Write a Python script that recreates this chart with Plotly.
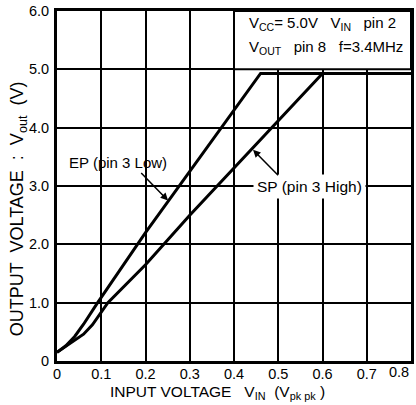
import plotly.graph_objects as go

# Data
ep_x = [0, 0.02, 0.04, 0.06, 0.09, 0.2, 0.46, 0.8]
ep_y = [0.15, 0.26, 0.42, 0.63, 0.98, 2.2, 4.93, 4.93]
sp_x = [0, 0.03, 0.06, 0.08, 0.1, 0.115, 0.2, 0.3, 0.6, 0.8]
sp_y = [0.15, 0.3, 0.46, 0.62, 0.84, 1.0, 1.65, 2.5, 4.93, 4.93]

x_tickvals = [0, 0.1, 0.2, 0.3, 0.4, 0.5, 0.6, 0.7]
x_ticktext = ["0", "0.1", "0.2", "0.3", "0.4", "0.5", "0.6", "0.7"]
y_tickvals = [0, 1, 2, 3, 4, 5, 6]
y_ticktext = ["0", "1.0", "2.0", "3.0", "4.0", "5.0", "6.0"]

FONT = "Liberation Sans, Arial, sans-serif"

fig = go.Figure()
fig.add_trace(go.Scatter(x=ep_x, y=ep_y, mode="lines",
                         line=dict(color="black", width=3), showlegend=False))
fig.add_trace(go.Scatter(x=sp_x, y=sp_y, mode="lines",
                         line=dict(color="black", width=3), showlegend=False))

axis_common = dict(showline=True, mirror=True, linecolor="black", linewidth=3,
                   showgrid=True, gridcolor="black", gridwidth=2,
                   zeroline=False, ticks="", automargin=False,
                   ticklabeloverflow="allow",
                   tickfont=dict(family=FONT, size=14.5, color="black"))

fig.update_xaxes(range=[0, 0.8], tickvals=x_tickvals, ticktext=x_ticktext,
                 ticklabelstandoff=-2, **axis_common)
fig.update_yaxes(range=[0, 6], tickvals=y_tickvals, ticktext=y_ticktext,
                 ticklabelstandoff=2, **axis_common)

fig.add_shape(type="rect", x0=0.4, x1=0.8, y0=5.0, y1=6.0, xref="x", yref="y",
              fillcolor="white", line=dict(color="black", width=2), layer="between")

ann = []
# info box text
ann.append(dict(x=0.43, y=5.78, xref="x", yref="y", xanchor="left", yanchor="middle",
                showarrow=False, font=dict(family=FONT, size=15, color="black"),
                text="V<sub>CC</sub>= 5.0V   V<sub>IN</sub>   pin 2"))
ann.append(dict(x=0.43, y=5.38, xref="x", yref="y", xanchor="left", yanchor="middle",
                showarrow=False, font=dict(family=FONT, size=15, color="black"),
                text="V<sub>OUT</sub>   pin 8   f=3.4MHz"))
# curve labels
ann.append(dict(x=0.138, y=3.41, xref="x", yref="y", showarrow=False,
                font=dict(family=FONT, size=15, color="black"),
                text="EP (pin 3 Low)"))
ann.append(dict(x=0.571, y=2.99, xref="x", yref="y", showarrow=False,
                font=dict(family=FONT, size=15.5, color="black"),
                bgcolor="white", borderpad=3,
                text="SP (pin 3 High)"))
# arrows
ann.append(dict(x=0.251, y=2.75, ax=0.187, ay=3.25, xref="x", yref="y",
                axref="x", ayref="y", text="", showarrow=True,
                arrowhead=2, arrowsize=1, arrowwidth=1.5, arrowcolor="black"))
ann.append(dict(x=0.443, y=3.62, ax=0.503, ay=3.16, xref="x", yref="y",
                axref="x", ayref="y", text="", showarrow=True,
                arrowhead=2, arrowsize=1, arrowwidth=1.5, arrowcolor="black"))
# 0.8 tick label (shifted inside the figure)
ann.append(dict(x=0.8, y=0, xref="x", yref="y", xanchor="right", yanchor="top",
                yshift=-1, showarrow=False,
                font=dict(family=FONT, size=14.5, color="black"), text="0.8"))
# axis titles
ann.append(dict(x=0.144, y=-0.09, xref="paper", yref="paper", xanchor="left",
                yanchor="middle", showarrow=False,
                font=dict(family=FONT, size=15.5, color="black"),
                text="INPUT VOLTAGE   V<sub>IN</sub>  (V<sub>pk pk</sub> )"))
ann.append(dict(x=-0.110, y=0.434, xref="paper", yref="paper", xanchor="center",
                yanchor="middle", showarrow=False, textangle=-90,
                font=dict(family=FONT, size=18, color="black"),
                text="OUTPUT  VOLTAGE  :  V<sub>out</sub>  (V)"))

fig.update_layout(width=416, height=405,
                  margin=dict(l=57, r=5, t=11, b=44),
                  paper_bgcolor="white", plot_bgcolor="white",
                  annotations=ann, showlegend=False)

# remove the default 8px body margin so the figure fills the window exactly
fig.write_html("out.html", config={"displayModeBar": False},
               post_script="document.body.style.margin='0';document.body.style.padding='0';")
